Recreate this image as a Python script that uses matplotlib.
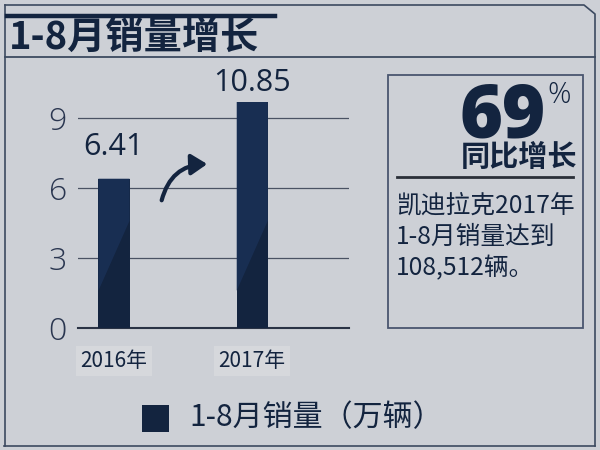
import matplotlib
matplotlib.use("Agg")
import matplotlib.pyplot as plt
from matplotlib.lines import Line2D
from matplotlib.patches import Rectangle, FancyArrowPatch, Polygon

plt.rcParams['font.family'] = ['Noto Sans CJK SC', 'DejaVu Sans']

# ---- data ----
years = ["2016年", "2017年"]
sales = [6.41, 10.85]
value_labels = ["6.41", "10.85"]
yticks = [0, 3, 6, 9]
title = "1-8月销量增长"
legend_label = "1-8月销量（万辆）"
growth = "69"
growth_text = "同比增长"
note_lines = ["凯迪拉克2017年", "1-8月销量达到", "108,512辆。"]

W, H = 600, 450
BG = "#cdd0d6"
NAVY = "#13243f"
GRID = "#4a5263"
NUMFONT = ["Open Sans", "DejaVu Sans"]

fig = plt.figure(figsize=(6, 4.5), dpi=100, facecolor=BG)

def fx(x):
    return x / W

def fy(y):
    return 1 - y / H

def hline(x0, x1, y, lw=1.2, color="#3c4a60"):
    fig.add_artist(Line2D([fx(x0), fx(x1)], [fy(y), fy(y)], lw=lw, color=color))

def vline(x, y0, y1, lw=1.2, color="#3c4a60"):
    fig.add_artist(Line2D([fx(x), fx(x)], [fy(y0), fy(y1)], lw=lw, color=color))

# outer frame
fig.add_artist(Line2D([fx(5), fx(584), fx(595), fx(595)], [fy(5), fy(5), fy(14), fy(446)],
                      lw=1.2, color="#3c4a60"))
vline(4.5, 5, 446)
hline(4, 595, 446)
# title decorations
hline(7, 275, 16, lw=3.2, color=NAVY)
hline(5, 595, 57, lw=1.3)
fig.text(fx(9), fy(38), title, fontsize=27.5, fontweight="heavy", color=NAVY,
         ha="left", va="center")

# ---- chart axes ----
ax = fig.add_axes([fx(78), fy(328), fx(349) - fx(78), (328 - 102) / H])
ax.set_facecolor("none")
x = list(range(len(years)))
bars = ax.bar(x, sales, width=0.225, color=NAVY, zorder=3)
ax.set_xlim(-0.26, 1.70)
ax.set_ylim(0, 9.7)
ax.set_yticks(yticks)
ax.set_yticklabels([str(t) for t in yticks], fontsize=23, color="#2a3650",
                   fontweight="light", family=NUMFONT)
ax.tick_params(axis="y", length=0, pad=8)
ax.set_xticks(x)
ax.set_xticklabels(years, fontsize=15, color=NAVY, fontweight="medium",
                   bbox=dict(boxstyle="square,pad=0.2", fc="#d6d8dc", ec="none"))
ax.tick_params(axis="x", length=0, pad=16)
for t in yticks[1:]:
    ax.axhline(t, color=GRID, lw=0.9, zorder=1)
for s in ["top", "right", "left"]:
    ax.spines[s].set_visible(False)
ax.spines["bottom"].set_color("#2a3345")
ax.spines["bottom"].set_linewidth(1.5)

# subtle diagonal highlight on bars
for b in bars:
    x0 = b.get_x()
    w = b.get_width()
    top = min(b.get_height(), 9.7)
    poly = Polygon([(x0, top), (x0 + w, top), (x0 + w, 4.6), (x0, 1.6)],
                   closed=True, fc="#1a3158", ec="none", zorder=3.5, alpha=0.8)
    ax.add_patch(poly)

# value labels
label_y = [7.75, 10.5]
for xi, lab, ly in zip(x, value_labels, label_y):
    ax.text(xi, ly, lab, ha="center", va="center", fontsize=22, color=NAVY,
            family=NUMFONT, clip_on=False)

# curved arrow
arr = FancyArrowPatch((fx(161), fy(203)), (fx(210), fy(164)), transform=fig.transFigure,
                      connectionstyle="arc3,rad=-0.4",
                      arrowstyle="-|>,head_length=4,head_width=2.6",
                      lw=3, color=NAVY, mutation_scale=2.4)
fig.add_artist(arr)

# ---- right box ----
fig.add_artist(Rectangle((fx(388), fy(328)), fx(583) - fx(388), (328 - 75) / H,
                         transform=fig.transFigure, fill=False, ec="#4a5670", lw=1.3))
fig.text(fx(546), fy(138), growth, fontsize=53, fontweight="heavy", color=NAVY,
         ha="right", va="baseline", family=NUMFONT)
fig.text(fx(547), fy(95), "%", fontsize=21, color=NAVY, ha="left", va="center",
         family=NUMFONT, fontweight="light")
fig.text(fx(577), fy(157), growth_text, fontsize=21, fontweight="heavy", color=NAVY,
         ha="right", va="center")
hline(397, 573, 177, lw=2.0, color="#2a2f38")
for i, line in enumerate(note_lines):
    fig.text(fx(396), fy(206 + 31 * i), line, fontsize=17.8, color=NAVY,
             ha="left", va="center")

# ---- legend ----
fig.add_artist(Rectangle((fx(142), fy(432)), fx(169) - fx(142), 27 / H,
                         transform=fig.transFigure, fc=NAVY, ec="none"))
fig.text(fx(189), fy(418), legend_label, fontsize=21.6, color=NAVY, ha="left", va="center")

fig.savefig("out.png", dpi=100, facecolor=BG)
